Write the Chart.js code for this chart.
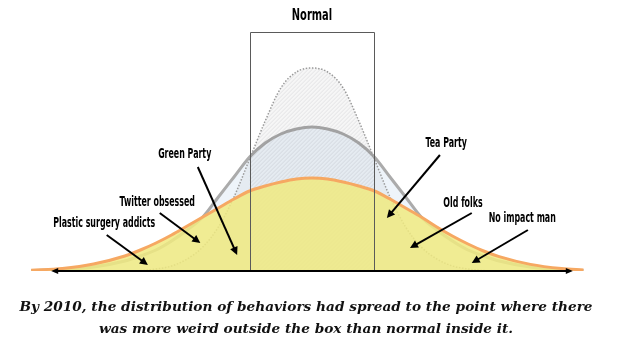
<!DOCTYPE html>
<html><head><meta charset="utf-8">
<script src="https://cdn.jsdelivr.net/npm/chart.js@4/dist/chart.umd.min.js"></script>
<style>html,body{margin:0;padding:0;background:#fff;}#wrap{width:628px;height:355px;}</style>
</head><body><div id="wrap"><canvas id="c" width="628" height="355"></canvas></div>
<script>
// behaviour scale (box = -1..1)
const xPositions = [-4.5,-4,-3.5,-3,-2.75,-2.5,-2.25,-2,-1.75,-1.5,-1.25,-1,-0.75,-0.5,-0.25,0,0.25,0.5,0.75,1,1.25,1.5,1.75,2,2.25,2.5,2.75,3,3.5,4,4.35];
// 2010 spread distribution (orange / yellow)
const wideValues = [0.004,0.013,0.035,0.075,0.105,0.14,0.18,0.225,0.27,0.315,0.36,0.40,0.425,0.445,0.46,0.465,0.46,0.445,0.425,0.40,0.36,0.315,0.27,0.22,0.175,0.135,0.1,0.072,0.033,0.012,0.005];
// intermediate distribution (grey)
const midValues = [0.002,0.007,0.02,0.05,0.075,0.105,0.15,0.205,0.27,0.37,0.47,0.57,0.64,0.685,0.71,0.72,0.71,0.685,0.64,0.57,0.47,0.37,0.27,0.205,0.15,0.105,0.075,0.05,0.02,0.007,0.003];
// original normal distribution (dotted)
const narrowValues = [null,null,null,0,0.002,0.01,0.025,0.06,0.12,0.22,0.37,0.56,0.75,0.915,0.995,1.015,0.995,0.915,0.75,0.56,0.37,0.22,0.12,0.06,0.025,0.01,0.002,0,null,null,null];
const boxRange = [-1, 1];
const boxTop = 1.195;
const axisRange = [-4.18, 4.18];
const titleText = "Normal";
const titlePos = [0, 1.275];
const captionLines = ["By 2010, the distribution of behaviors had spread to the point where there","was more weird outside the box than normal inside it."];
const labelTexts = ["Plastic surgery addicts","Twitter obsessed","Green Party","Tea Party","Old folks","No impact man"];
const labelAt = [[-3.33,0.24],[-2.48,0.345],[-2.04,0.585],[2.15,0.64],[2.42,0.34],[3.37,0.265]];
const arrowFrom = [[-3.29,0.18],[-2.44,0.29],[-1.83,0.52],[2.05,0.58],[2.56,0.29],[3.46,0.205]];
const arrowTo = [[-2.63,0.03],[-1.79,0.14],[-1.20,0.08],[1.20,0.265],[1.57,0.115],[2.56,0.04]];

const pts = vals => xPositions.map((x,i)=>({x:x, y:vals[i]}));
const LABEL_FONT = "'Liberation Sans Narrow','DejaVu Sans Condensed','Roboto',sans-serif";

function arrowHead(ctx,x1,y1,x2,y2,len,half){
  const a=Math.atan2(y2-y1,x2-x1);
  ctx.beginPath();
  ctx.moveTo(x2,y2);
  ctx.lineTo(x2-len*Math.cos(a)+half*Math.sin(a), y2-len*Math.sin(a)-half*Math.cos(a));
  ctx.lineTo(x2-len*Math.cos(a)-half*Math.sin(a), y2-len*Math.sin(a)+half*Math.cos(a));
  ctx.closePath(); ctx.fill();
}
function arrowLine(ctx,x1,y1,x2,y2,len,half,w){
  const a=Math.atan2(y2-y1,x2-x1);
  ctx.lineWidth=w;
  ctx.beginPath(); ctx.moveTo(x1,y1); ctx.lineTo(x2-len*0.8*Math.cos(a), y2-len*0.8*Math.sin(a)); ctx.stroke();
  arrowHead(ctx,x1,y1,x2,y2,len,half);
}
function condensedText(ctx,text,x,y,size,sx){
  ctx.save();
  ctx.font = "bold "+size+"px "+LABEL_FONT;
  ctx.textAlign="center"; ctx.textBaseline="middle";
  ctx.translate(x,y); ctx.scale(sx,1);
  ctx.fillText(text,0,0);
  ctx.restore();
}

const hatchPlugin = {
  id:'hatch',
  afterDatasetDraw(chart,args){
    if(args.meta.label!=='narrow') return;
    const ctx=chart.ctx, xs=chart.scales.x, ys=chart.scales.y;
    const l=xs.getPixelForValue(boxRange[0]), r=xs.getPixelForValue(boxRange[1]);
    const b=ys.getPixelForValue(0), t=ys.getPixelForValue(boxTop);
    ctx.save();
    ctx.beginPath(); ctx.rect(l,t,r-l,b-t); ctx.clip();
    ctx.beginPath();
    const pe=args.meta.data.filter(p=>!p.skip && p.y===p.y);
    ctx.moveTo(pe[0].x,b);
    args.meta.dataset.path(ctx);
    ctx.lineTo(pe[pe.length-1].x,b);
    ctx.closePath(); ctx.clip();
    ctx.strokeStyle='rgba(120,120,130,0.16)'; ctx.lineWidth=1;
    ctx.beginPath();
    for(let k=l-(b-t); k<r+10; k+=4){ ctx.moveTo(k,b); ctx.lineTo(k+(b-t),t); }
    ctx.stroke();
    ctx.restore();
  }
};

const overlayPlugin = {
  id:'overlay',
  afterDatasetsDraw(chart){
    const ctx=chart.ctx, xs=chart.scales.x, ys=chart.scales.y;
    const X=v=>xs.getPixelForValue(v), Y=v=>ys.getPixelForValue(v);
    ctx.save();
    ctx.strokeStyle='#5a5a5a'; ctx.lineWidth=1;
    const l=Math.round(X(boxRange[0]))+0.5, r=Math.round(X(boxRange[1]))+0.5, t=Math.round(Y(boxTop))+0.5, b=Y(0);
    ctx.beginPath(); ctx.moveTo(l,b); ctx.lineTo(l,t); ctx.lineTo(r,t); ctx.lineTo(r,b); ctx.stroke();
    ctx.strokeStyle='#000'; ctx.fillStyle='#000';
    const a0=X(axisRange[0]), a1=X(axisRange[1]), ay=Y(0);
    ctx.lineWidth=2;
    ctx.beginPath(); ctx.moveTo(a0+4,ay); ctx.lineTo(a1-4,ay); ctx.stroke();
    arrowHead(ctx,a1,ay,a0,ay,7,3);
    arrowHead(ctx,a0,ay,a1,ay,7,3);
    ctx.fillStyle='#000'; ctx.strokeStyle='#000';
    for(let i=0;i<labelTexts.length;i++){
      arrowLine(ctx,X(arrowFrom[i][0]),Y(arrowFrom[i][1]),X(arrowTo[i][0]),Y(arrowTo[i][1]),8,4,2);
      condensedText(ctx,labelTexts[i],X(labelAt[i][0]),Y(labelAt[i][1]),13.5,0.65);
    }
    condensedText(ctx,titleText,X(titlePos[0]),Y(titlePos[1]),15.5,0.71);
    ctx.font="italic bold 13.7px 'DejaVu Serif','Liberation Serif',serif";
    ctx.textAlign='center'; ctx.textBaseline='middle'; ctx.fillStyle='#111';
    ctx.fillText(captionLines[0],306,307);
    ctx.fillText(captionLines[1],306,329);
    ctx.restore();
  }
};

new Chart(document.getElementById('c'),{
  type:'line',
  data:{datasets:[
    {label:'wide', data:pts(wideValues), order:1, borderColor:'#f6a862', borderWidth:3,
     backgroundColor:'rgba(240,234,128,0.85)', fill:'origin', cubicInterpolationMode:'monotone', pointRadius:0},
    {label:'narrow', data:pts(narrowValues), order:2, borderColor:'#9b9b9b', borderWidth:1.5, borderDash:[1.5,1.6],
     backgroundColor:'rgba(0,0,0,0.035)', fill:'origin', cubicInterpolationMode:'monotone', pointRadius:0, spanGaps:false},
    {label:'mid', data:pts(midValues), order:3, borderColor:'#ababab', borderWidth:3,
     backgroundColor:'#eef4fa', fill:'origin', cubicInterpolationMode:'monotone', pointRadius:0}
  ]},
  options:{
    responsive:false, animation:false,
    layout:{padding:{left:0,right:4,top:0,bottom:84}},
    scales:{
      x:{type:'linear', min:-5, max:5, display:false},
      y:{type:'linear', min:0, max:1.355, display:false}
    },
    plugins:{legend:{display:false}, tooltip:{enabled:false}},
    elements:{point:{radius:0}}
  },
  plugins:[hatchPlugin, overlayPlugin]
});
</script>
</body></html>
